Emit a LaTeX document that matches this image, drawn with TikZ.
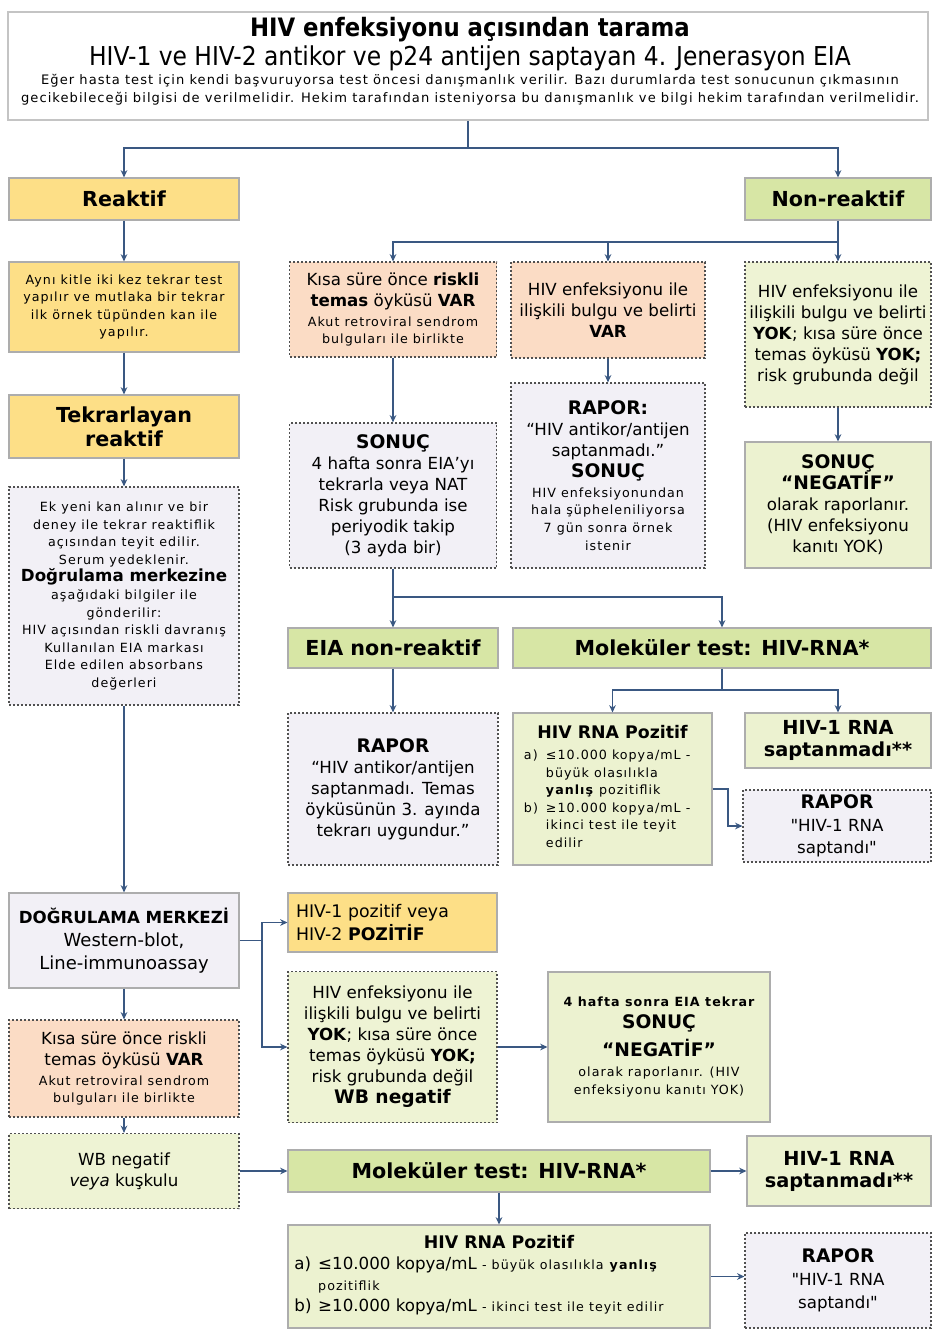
\documentclass[tikz,border=0pt]{standalone}
\usepackage{fontspec}
\setmainfont{DejaVu Sans}
\newfontfamily\condfont[BoldFont={DejaVu Sans Condensed Bold}]{DejaVu Sans Condensed}
\newfontfamily\spacedfont[LetterSpace=8]{DejaVu Sans}
\usetikzlibrary{arrows.meta}

\definecolor{yel}{HTML}{FDDF87}
\definecolor{grnhd}{HTML}{D7E6A5}
\definecolor{grnpl}{HTML}{ECF2D0}
\definecolor{grndot}{HTML}{EEF3D4}
\definecolor{peach}{HTML}{FBDCC5}
\definecolor{lav}{HTML}{F2F0F6}
\definecolor{bxgray}{HTML}{ADADAD}
\definecolor{dotgray}{HTML}{505050}
\definecolor{topgray}{HTML}{C4C4C4}
\definecolor{arrblue}{HTML}{3A5882}

\newcommand{\smtxt}{\spacedfont\fontsize{9.5}{13.2}\selectfont}
\newcommand{\mdtxt}{\normalfont\fontsize{12.5}{15.75}\selectfont}
\newcommand{\hdtxt}{\normalfont\fontsize{15.5}{18}\selectfont\bfseries}
\newcommand{\bxhd}{\normalfont\fontsize{14}{16}\selectfont\bfseries}

\begin{document}
\begin{tikzpicture}[
    x=0.75pt, y=-0.75pt,
    solidbox/.style={draw=bxgray, line width=0.8pt, align=center, inner sep=0pt, font=\mdtxt},
    dotbox/.style={draw=dotgray, line width=0.9pt, dash pattern=on 1.5pt off 1.5pt, align=center, inner sep=0pt, font=\mdtxt},
    wh/.style 2 args={minimum width=#1*0.75pt, minimum height=#2*0.75pt},
    arr/.style={-{Stealth[length=5.5pt, width=5pt]}, line width=1.1pt, draw=arrblue},
    lin/.style={line width=1.1pt, draw=arrblue}
]
    \fill[white] (0,0) rectangle (932,1329);
    \useasboundingbox (0,0) rectangle (932,1329);

    % Header box
    \node[solidbox, draw=topgray, line width=1.5pt, fill=white, wh={920}{108}] (top) at (468,66) {};
    \node[font=\condfont\fontsize{19}{22}\selectfont\bfseries] (title) at (470,30) {HIV enfeksiyonu açısından tarama};
    \node[font=\condfont\fontsize{19.5}{22}\selectfont] (subtitle) at (470,58) {HIV-1 ve HIV-2 antikor ve p24 antijen saptayan 4. Jenerasyon EIA};
    \node[font=\spacedfont\fontsize{9.8}{13.5}\selectfont, align=center] (note) at (470,90) {Eğer hasta test için kendi başvuruyorsa test öncesi danışmanlık verilir. Bazı durumlarda test sonucunun çıkmasının\\gecikebileceği bilgisi de verilmelidir. Hekim tarafından isteniyorsa bu danışmanlık ve bilgi hekim tarafından verilmelidir.};

    % Left column: reactive branch
    \node[solidbox, fill=yel, wh={230}{42}, font=\hdtxt] (reak) at (124,199) {Reaktif};
    \node[solidbox, fill=yel, wh={230}{90}, font=\smtxt] (ayni) at (124,307) {Aynı kitle iki kez tekrar test\\yapılır ve mutlaka bir tekrar\\ilk örnek tüpünden kan ile\\yapılır.};
    \node[solidbox, fill=yel, wh={230}{63}, font=\hdtxt] (tekrar) at (124,426.5) {Tekrarlayan\\reaktif};
    \node[dotbox, fill=lav, wh={230}{218}, font=\smtxt] (ekyeni) at (124,596) {Ek yeni kan alınır ve bir\\deney ile tekrar reaktiflik\\açısından teyit edilir.\\Serum yedeklenir.\\{\normalfont\fontsize{12.5}{15}\selectfont\bfseries Doğrulama merkezine}\\aşağıdaki bilgiler ile\\gönderilir:\\HIV açısından riskli davranış\\Kullanılan EIA markası\\Elde edilen absorbans\\değerleri};
    \node[solidbox, fill=lav, wh={230}{95}] (dmerkez) at (124,940.5) {\bfseries DOĞRULAMA MERKEZİ\\[1.5pt]{\fontsize{13.5}{17}\selectfont Western-blot,}\\[1.5pt]{\fontsize{13.5}{17}\selectfont Line-immunoassay}};
    \node[dotbox, fill=peach, wh={230}{97}] (kisa2) at (124,1068.5) {Kısa süre önce riskli\\temas öyküsü \textbf{VAR}\\[-1pt]\smtxt Akut retroviral sendrom\\[-2.5pt]\smtxt bulguları ile birlikte};
    \node[dotbox, fill=grndot, wh={230}{75}] (wbneg) at (124,1171) {WB negatif\\\textit{veya} kuşkulu};

    % Right column: non-reactive branch
    \node[solidbox, fill=grnhd, wh={186}{42}, font=\hdtxt] (nonreak) at (838,199) {Non-reaktif};
    \node[dotbox, fill=peach, wh={207}{95}] (riskvar) at (393,309.5) {Kısa süre önce \textbf{riskli}\\\textbf{temas} öyküsü \textbf{VAR}\\[-1pt]\smtxt Akut retroviral sendrom\\[-2.5pt]\smtxt bulguları ile birlikte};
    \node[dotbox, fill=peach, wh={194}{96}] (bulguvar) at (608,310) {HIV enfeksiyonu ile\\ilişkili bulgu ve belirti\\\textbf{VAR}};
    \node[dotbox, fill=grndot, wh={186}{145}] (bulguyok) at (838,334.5) {HIV enfeksiyonu ile\\ilişkili bulgu ve belirti\\\textbf{YOK}; kısa süre önce\\temas öyküsü \textbf{YOK;}\\risk grubunda değil};
    \node[dotbox, fill=lav, wh={207}{145}] (sonuc1) at (393,495.5) {\bxhd SONUÇ\\4 hafta sonra EIA’yı\\tekrarla veya NAT\\Risk grubunda ise\\periyodik takip\\(3 ayda bir)};
    \node[dotbox, fill=lav, wh={194}{185}] (rapor1) at (608,475.5) {\bxhd RAPOR:\\“HIV antikor/antijen\\saptanmadı.”\\\bxhd SONUÇ\\[-1pt]\smtxt HIV enfeksiyonundan\\[-2.5pt]\smtxt hala şüpheleniliyorsa\\[-2.5pt]\smtxt 7 gün sonra örnek\\[-2.5pt]\smtxt istenir};
    \node[solidbox, fill=grnpl, wh={186}{126}] (negatif1) at (838,505) {\bxhd SONUÇ\\\bxhd “NEGATİF”\\olarak raporlanır.\\(HIV enfeksiyonu\\kanıtı YOK)};

    % Follow-up and molecular test
    \node[solidbox, fill=grnhd, wh={210}{40}, font=\hdtxt] (eianon) at (393,648) {EIA non-reaktif};
    \node[solidbox, fill=grnhd, wh={418}{40}, font=\hdtxt] (mol1) at (722,648) {Moleküler test: HIV-RNA*};
    \node[dotbox, fill=lav, wh={210}{152}] (rapor2) at (393,789) {\bxhd RAPOR\\“HIV antikor/antijen\\saptanmadı. Temas\\öyküsünün 3. ayında\\tekrarı uygundur.”};
    \node[solidbox, fill=grnpl, wh={199}{152}, font=\smtxt] (rnapoz1) at (612.5,789) {{\normalfont\fontsize{13}{16}\selectfont\bfseries HIV RNA Pozitif}\\[2.5pt]
        \begin{tabular}[t]{@{}l@{\hspace{6pt}}l@{}}
        a) & ≤10.000 kopya/mL -\\
           & büyük olasılıkla\\
           & \textbf{yanlış} pozitiflik\\
        b) & ≥10.000 kopya/mL -\\
           & ikinci test ile teyit\\
           & edilir
        \end{tabular}\hspace*{8pt}};
    \node[solidbox, fill=grnpl, wh={186}{55}, font=\normalfont\fontsize{14.5}{16.5}\selectfont\bfseries] (saptanmadi1) at (838,740.5) {HIV-1 RNA\\saptanmadı**};
    \node[dotbox, fill=lav, wh={188}{72}] (saptandi1) at (837,826) {\bxhd RAPOR\\[1pt]\textquotedbl HIV-1 RNA\\[1pt]saptandı\textquotedbl};

    % Confirmation results
    \node[solidbox, fill=yel, wh={209}{59}, font=\normalfont\fontsize{13}{17}\selectfont, align=left, text width=193*0.75pt, inner xsep=8*0.75pt] (poz) at (392.5,922.5) {HIV-1 pozitif veya\\HIV-2 \textbf{POZİTİF}};
    \node[dotbox, fill=grndot, wh={209}{151}] (wbyok) at (392.5,1047) {HIV enfeksiyonu ile\\ilişkili bulgu ve belirti\\\textbf{YOK}; kısa süre önce\\temas öyküsü \textbf{YOK;}\\risk grubunda değil\\\bxhd WB negatif};
    \node[solidbox, fill=grnpl, wh={222}{150}, font=\smtxt] (hafta) at (659,1047) {\bfseries 4 hafta sonra EIA tekrar\\[3pt]\bxhd SONUÇ\\[4pt]\bxhd “NEGATİF”\\[2pt]olarak raporlanır. (HIV\\enfeksiyonu kanıtı YOK)};

    % Bottom molecular test
    \node[solidbox, fill=grnhd, wh={422}{42}, font=\hdtxt] (mol2) at (499,1171) {Moleküler test: HIV-RNA*};
    \node[solidbox, fill=grnpl, wh={184}{70}, font=\normalfont\fontsize{14.5}{16.5}\selectfont\bfseries] (saptanmadi2) at (839,1171) {HIV-1 RNA\\saptanmadı**};
    \node[solidbox, fill=grnpl, wh={422}{103}] (rnapoz2) at (499,1276.5) {{\fontsize{13}{16}\selectfont\bfseries HIV RNA Pozitif}\\
        \begin{tabular}[t]{@{}l@{\hspace{5pt}}l@{}}
        a) & ≤10.000 kopya/mL {\smtxt - büyük olasılıkla \textbf{yanlış}}\\
           & \smtxt pozitiflik\\
        b) & ≥10.000 kopya/mL {\smtxt - ikinci test ile teyit edilir}
        \end{tabular}\hspace*{30pt}};
    \node[dotbox, fill=lav, wh={186}{95}] (saptandi2) at (838,1280.5) {\bxhd RAPOR\\[1.5pt]\textquotedbl HIV-1 RNA\\[1.5pt]saptandı\textquotedbl};

    % Connectors from the header
    \coordinate (j1) at (top.south |- 0,148);
    \draw[lin] (top.south) -- (j1);
    \draw[arr] (j1) -| (reak.north);
    \draw[arr] (j1) -| (nonreak.north);

    % Left column chain
    \draw[arr] (reak.south) -- (ayni.north);
    \draw[arr] (ayni.south) -- (tekrar.north);
    \draw[arr] (tekrar.south) -- (ekyeni.north);
    \draw[arr] (ekyeni.south) -- (dmerkez.north);
    \draw[arr] (dmerkez.south) -- (kisa2.north);
    \draw[arr] (kisa2.south) -- (wbneg.north);

    % Non-reactive split
    \coordinate (j2) at (nonreak.south |- 0,242);
    \draw[lin] (nonreak.south) -- (j2);
    \draw[arr] (j2) -| (riskvar.north);
    \draw[arr] (j2) -| (bulguvar.north);
    \draw[arr] (j2) -- (bulguyok.north);
    \draw[arr] (riskvar.south) -- (sonuc1.north);
    \draw[arr] (bulguvar.south) -- (rapor1.north);
    \draw[arr] (bulguyok.south) -- (negatif1.north);

    % Follow-up split
    \coordinate (j3) at (sonuc1.south |- 0,597);
    \draw[lin] (sonuc1.south) -- (j3);
    \draw[arr] (j3) -- (eianon.north);
    \draw[arr] (j3) -| (mol1.north);
    \draw[arr] (eianon.south) -- (rapor2.north);
    \coordinate (j4) at (mol1.south |- 0,690);
    \draw[lin] (mol1.south) -- (j4);
    \draw[arr] (j4) -| (rnapoz1.north);
    \draw[arr] (j4) -| (saptanmadi1.north);
    \coordinate (k1) at (728,789);
    \draw[arr] (rnapoz1.east) -- (k1) |- (saptandi1.west);

    % Confirmation centre outcomes
    \coordinate (j5) at (262,940.5);
    \draw[lin] (dmerkez.east) -- (j5);
    \draw[arr] (j5) |- (poz.west);
    \draw[arr] (j5) |- (wbyok.west);
    \draw[arr] (wbyok.east) -- (hafta.west);

    % Bottom row
    \draw[arr] (wbneg.east) -- (mol2.west);
    \draw[arr] (mol2.east) -- (saptanmadi2.west);
    \draw[arr] (mol2.south) -- (rnapoz2.north);
    \draw[arr] (rnapoz2.east) -- (rnapoz2.east -| saptandi2.west);
\end{tikzpicture}
\end{document}
